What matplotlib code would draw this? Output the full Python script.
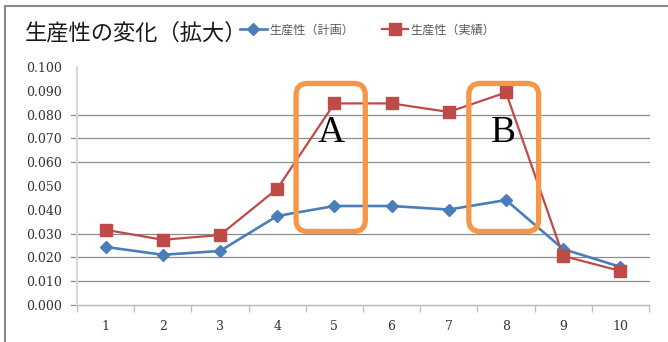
import matplotlib
matplotlib.use("Agg")
import matplotlib.pyplot as plt
from matplotlib.patches import FancyBboxPatch
from matplotlib.lines import Line2D

plt.rcParams['font.family'] = ['Noto Sans CJK JP', 'DejaVu Sans']

# productivity per period
periods = [1, 2, 3, 4, 5, 6, 7, 8, 9, 10]
plan = [0.0244, 0.0211, 0.0227, 0.0374, 0.0416, 0.0416, 0.0401, 0.0441, 0.0235, 0.0160]
actual = [0.0316, 0.0274, 0.0294, 0.0488, 0.0847, 0.0847, 0.0811, 0.0893, 0.0206, 0.0143]
y_ticks = [0.000, 0.010, 0.020, 0.030, 0.040, 0.050, 0.060, 0.070, 0.080, 0.090, 0.100]
grid_levels = [0.010, 0.020, 0.030, 0.060, 0.070, 0.080]
title = "生産性の変化（拡大）"
plan_label = "生産性（計画）"
actual_label = "生産性（実績）"

# highlighted ranges: (label, x0, x1, y0, y1)
highlights = [("A", 4.33, 5.54, 0.0309, 0.0931),
              ("B", 7.35, 8.57, 0.0309, 0.0931)]
label_y = 0.0722

fig = plt.figure(figsize=(6.68, 3.42), dpi=100)
ax = fig.add_axes([77 / 668, 1 - 305 / 342, 572 / 668, 238 / 342])

ax.set_xlim(0.5, 10.5)
ax.set_ylim(0, 0.100)

for lvl in grid_levels:
    ax.axhline(lvl, xmin=-0.011, xmax=1, color='#8c8c8c', lw=0.9, zorder=1, clip_on=False)
ax.axhline(0, xmin=-0.011, xmax=1, color='#8c8c8c', lw=0.9, zorder=1, clip_on=False)

blue, = ax.plot(periods, plan, color='#4A7EBB', lw=1.9, marker='D', ms=6,
                label=plan_label, zorder=3)
red, = ax.plot(periods, actual, color='#BE4B48', lw=1.6, marker='s', ms=8,
               label=actual_label, zorder=4)

for name, x0, x1, y0, y1 in highlights:
    box = FancyBboxPatch((x0, y0), x1 - x0, y1 - y0,
                         boxstyle="round,pad=0,rounding_size=0.2",
                         mutation_aspect=57.2 / 2380,
                         fc='none', ec='#F79646', lw=3.8, zorder=5)
    ax.add_patch(box)
    ax.text((x0 + x1) / 2, label_y, name, family='Liberation Serif',
            fontsize=27, ha='center', va='center', color='black', zorder=6)

ax.set_yticks(y_ticks)
ax.set_yticklabels([f"{v:.3f}" for v in y_ticks])
ax.set_xticks(periods)
ax.set_xticklabels([str(p) for p in periods])
ax.set_xticks([p + 0.5 for p in [0] + periods], minor=True)
ax.tick_params(axis='y', length=0, pad=11, labelsize=9, labelcolor='#333333')
ax.tick_params(axis='x', which='major', length=0, pad=11, labelsize=9, labelcolor='#333333')
ax.tick_params(axis='x', which='minor', length=5, color='#bdbdbd', width=0.9)
for lab in ax.get_xticklabels() + ax.get_yticklabels():
    lab.set_family('DejaVu Serif')

for side in ['top', 'right']:
    ax.spines[side].set_visible(False)
ax.spines['left'].set_color('#d9d9d9')
ax.spines['left'].set_linewidth(1.5)
ax.spines['bottom'].set_color('#bdbdbd')

fig.text(25 / 668, 1 - 33 / 342, title, fontsize=16, va='center', ha='left', color='#1a1a1a')

fig.legend(handles=[blue, red], loc='center left', ncol=2,
           bbox_to_anchor=(240 / 668, 1 - 30 / 342), frameon=False,
           prop={'size': 8.7}, labelcolor='#595959', handlelength=2.2,
           handletextpad=0.2, columnspacing=2.3, borderaxespad=0, borderpad=0)

# outer chart frame
fig.add_artist(Line2D([5 / 668, 5 / 668], [0, 1 - 6 / 342], color='#8a8a8a', lw=1.5,
                      transform=fig.transFigure))
fig.add_artist(Line2D([5 / 668, 1], [1 - 6 / 342, 1 - 6 / 342], color='#8a8a8a', lw=1.5,
                      transform=fig.transFigure))

fig.savefig("out.png", dpi=100)
